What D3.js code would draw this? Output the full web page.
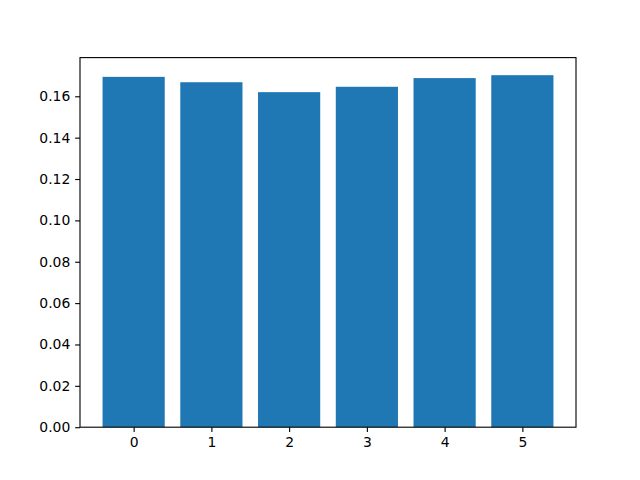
<!DOCTYPE html>
<html><head><meta charset="utf-8">
<script src="https://cdn.jsdelivr.net/npm/d3@7"></script>
<style>body{margin:0;background:#fff}svg{display:block}</style>
</head><body><svg width="640" height="480"></svg>
<script>
const categories = [0, 1, 2, 3, 4, 5];
const values = [0.1694, 0.1668, 0.1620, 0.1646, 0.1688, 0.1702];
const yTicks = [0, 0.02, 0.04, 0.06, 0.08, 0.10, 0.12, 0.14, 0.16];

const svg = d3.select("svg");
const L = 80, R = 576, T = 57.6, B = 427.2;
const bw = 0.8;
const x = d3.scaleLinear().domain([-0.4 - 0.29, 5.4 + 0.29]).range([L, R]);
const y = d3.scaleLinear().domain([0, d3.max(values) * 1.05]).range([B, T]);

svg.selectAll("rect.bar").data(categories).enter().append("rect")
  .attr("x", (d) => x(d - bw / 2)).attr("width", (d) => x(d + bw / 2) - x(d - bw / 2))
  .attr("y", (d, i) => y(values[i])).attr("height", (d, i) => B - y(values[i]))
  .attr("fill", "#1f77b4");

const xa = svg.append("g").attr("transform", `translate(0,${B})`)
  .call(d3.axisBottom(x).tickValues(categories).tickFormat(d3.format("d")).tickSize(4.86).tickPadding(4.86));
const ya = svg.append("g").attr("transform", `translate(${L},0)`)
  .call(d3.axisLeft(y).tickValues(yTicks).tickFormat(d3.format(".2f")).tickSize(4.86).tickPadding(4.86));
[xa, ya].forEach(g => {
  g.select(".domain").remove();
  g.selectAll("line").attr("stroke", "#000").attr("stroke-width", 1.11);
  g.selectAll("text").attr("font-family", "DejaVu Sans").attr("font-size", 13.9).attr("fill", "#000");
});
svg.append("rect").attr("x", L).attr("y", T).attr("width", R - L).attr("height", B - T)
  .attr("fill", "none").attr("stroke", "#000").attr("stroke-width", 1.11);
</script></body></html>
